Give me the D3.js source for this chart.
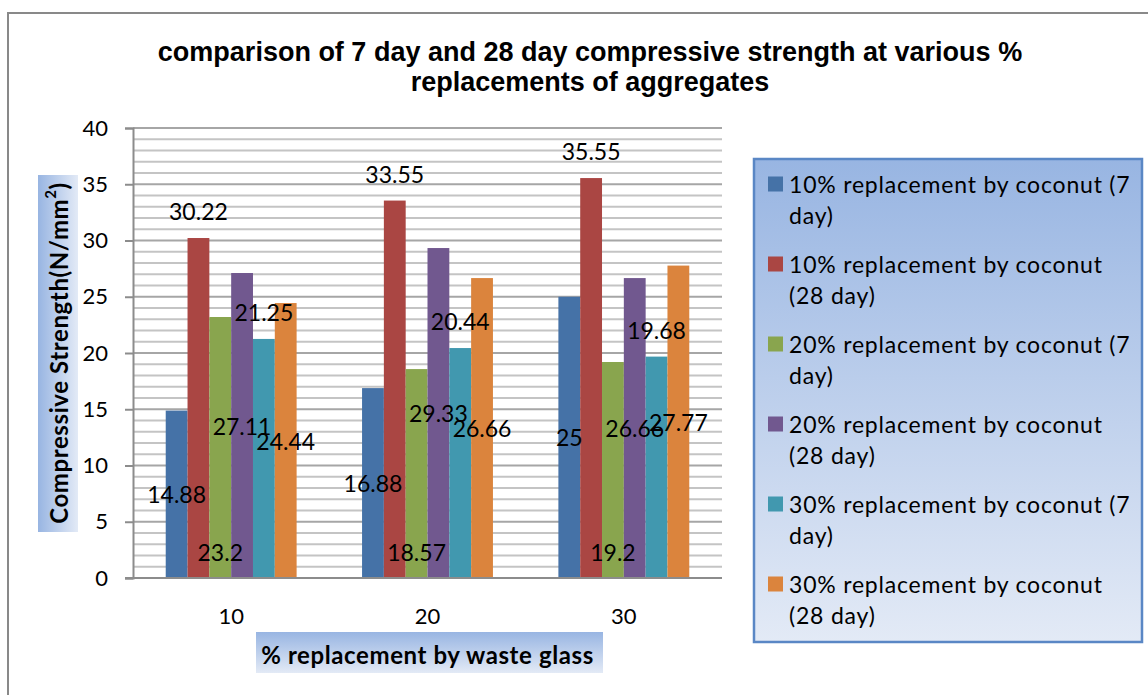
<!DOCTYPE html>
<html>
<head>
<meta charset="utf-8">
<title>7 day and 28 day compressive strength</title>
<script src="https://d3js.org/d3.v7.min.js"></script>
<style>
  body { margin: 0; background: #fff; }
  svg { display: block; }
  .grid-minor line { stroke: #c4c4c4; stroke-width: 2; }
  .grid-major line { stroke: #a6a6a6; stroke-width: 2; }
  .axis text { font-family: Lato, sans-serif; font-size: 22px; fill: #000; }
  .lbl { font-family: Lato, sans-serif; font-size: 23px; fill: #000; }
  .leg { font-family: Lato, sans-serif; font-size: 23px; letter-spacing: 0.8px; fill: #000; }
</style>
</head>
<body>
<svg width="1148" height="695"></svg>
<script>
// categories on x (% replacement by waste glass)
var categories = ["10", "20", "30"];

var seriesNames = [
  "10% replacement by coconut (7 day)",
  "10% replacement by coconut (28 day)",
  "20% replacement by coconut (7 day)",
  "20% replacement by coconut (28 day)",
  "30% replacement by coconut (7 day)",
  "30% replacement by coconut (28 day)"
];

// one array per series, in category order
var s10_7  = [14.88, 16.88, 25];
var s10_28 = [30.22, 33.55, 35.55];
var s20_7  = [23.2, 18.57, 19.2];
var s20_28 = [27.11, 29.33, 26.66];
var s30_7  = [21.25, 20.44, 19.68];
var s30_28 = [24.44, 26.66, 27.77];

var yTicks = [0, 5, 10, 15, 20, 25, 30, 35, 40];

var colors = ["#4572a7", "#aa4643", "#89a54e", "#71588f", "#4198af", "#db843d"];
// where excel put each series' data label
var labelPos = ["center", "outsideEnd", "insideBase", "center", "outsideEnd", "center"];

var seriesVals = [s10_7, s10_28, s20_7, s20_28, s30_7, s30_28];

var svg = d3.select("svg");

// gradient used by axis titles + legend
var defs = svg.append("defs");
var grad = defs.append("linearGradient")
    .attr("id", "blueGrad")
    .attr("x1", 0).attr("y1", 0).attr("x2", 0).attr("y2", 1);
grad.append("stop").attr("offset", "0%").attr("stop-color", "#98b5e2");
grad.append("stop").attr("offset", "100%").attr("stop-color", "#e3eaf6");

var gradY = defs.append("linearGradient")
    .attr("id", "blueGradY")
    .attr("x1", 0).attr("y1", 0).attr("x2", 1).attr("y2", 0);
gradY.append("stop").attr("offset", "0%").attr("stop-color", "#98b5e2");
gradY.append("stop").attr("offset", "100%").attr("stop-color", "#e3eaf6");

// outer chart border (cropped at right / bottom)
svg.append("path")
    .attr("d", "M8,700 V13 H1150")
    .attr("fill", "none")
    .attr("stroke", "#898989")
    .attr("stroke-width", 2);

var plotL = 133, plotR = 722, plotT = 128, plotB = 578;

var y = d3.scaleLinear().domain([0, 40]).range([plotB, plotT]);

var x0 = d3.scaleBand().domain(categories).range([plotL, plotR]).padding(0);
var x1 = d3.scaleBand().domain(d3.range(seriesNames.length))
    .range([0, x0.bandwidth()])
    .paddingInner(0).paddingOuter(1.5);

// minor grid every 1
svg.append("g").attr("class", "grid-minor")
  .selectAll("line")
  .data(d3.range(1, 40).filter(function(d) { return d % 5 != 0; }))
  .enter().append("line")
    .attr("x1", plotL).attr("x2", plotR)
    .attr("y1", function(d) { return y(d); })
    .attr("y2", function(d) { return y(d); });

// major grid every 5
svg.append("g").attr("class", "grid-major")
  .selectAll("line")
  .data(yTicks.filter(function(d) { return d > 0; }))
  .enter().append("line")
    .attr("x1", plotL).attr("x2", plotR)
    .attr("y1", function(d) { return y(d); })
    .attr("y2", function(d) { return y(d); });

// y axis
var yAxis = svg.append("g")
    .attr("class", "axis")
    .attr("transform", "translate(" + plotL + ",0)")
    .call(d3.axisLeft(y).tickValues(yTicks).tickSize(8).tickPadding(17));
yAxis.select(".domain").attr("stroke", "#8c8c8c").attr("stroke-width", 2);
yAxis.selectAll(".tick line").attr("stroke", "#8c8c8c").attr("stroke-width", 2);

// bars
var groups = svg.append("g").selectAll("g")
  .data(categories)
  .enter().append("g")
    .attr("transform", function(d) { return "translate(" + x0(d) + ",0)"; });

groups.selectAll("rect")
  .data(function(c, ci) {
    return seriesVals.map(function(s, si) { return {si: si, v: s[ci]}; });
  })
  .enter().append("rect")
    .attr("x", function(d) { return x1(d.si); })
    .attr("width", x1.bandwidth())
    .attr("y", function(d) { return y(d.v); })
    .attr("height", function(d) { return y(0) - y(d.v); })
    .attr("fill", function(d) { return colors[d.si]; });

// x axis line
svg.append("line")
    .attr("x1", plotL - 8).attr("x2", plotR)
    .attr("y1", plotB).attr("y2", plotB)
    .attr("stroke", "#8c8c8c").attr("stroke-width", 2);

svg.append("g").attr("class", "axis")
  .selectAll("text")
  .data(categories)
  .enter().append("text")
    .attr("x", function(d) { return x0(d) + x0.bandwidth() / 2; })
    .attr("y", 615)
    .attr("text-anchor", "middle")
    .attr("dominant-baseline", "central")
    .text(function(d) { return d; });

// data labels
groups.selectAll("text")
  .data(function(c, ci) {
    return seriesVals.map(function(s, si) { return {si: si, v: s[ci]}; });
  })
  .enter().append("text")
    .attr("class", "lbl")
    .attr("text-anchor", "middle")
    .attr("dominant-baseline", "central")
    .attr("x", function(d) { return x1(d.si) + x1.bandwidth() / 2; })
    .attr("y", function(d) {
      var p = labelPos[d.si];
      if (p == "center") return y(d.v / 2);
      if (p == "outsideEnd") return y(d.v) - 27;
      return y(0) - 26;
    })
    .text(function(d) { return d.v; });

// title
var title = svg.append("text")
    .attr("text-anchor", "middle")
    .attr("font-family", "'Liberation Sans', Arial, sans-serif")
    .attr("font-weight", "bold")
    .attr("font-size", 27);
title.append("tspan").attr("x", 590).attr("y", 61)
    .text("comparison of 7 day and 28 day compressive strength at various %");
title.append("tspan").attr("x", 590).attr("y", 91)
    .text("replacements of aggregates");

// y axis title
svg.append("rect")
    .attr("x", 38).attr("y", 175).attr("width", 40).attr("height", 357)
    .attr("fill", "url(#blueGradY)");
svg.append("text")
    .attr("transform", "translate(58," + ((plotT + plotB) / 2) + ") rotate(-90)")
    .attr("text-anchor", "middle")
    .attr("dominant-baseline", "central")
    .attr("font-family", "Lato, sans-serif")
    .attr("font-weight", "bold")
    .attr("font-size", 24)
    .style("letter-spacing", "0.6px")
    .html("Compressive Strength(N/mm<tspan dy='-8' font-size='15'>2</tspan><tspan dy='8'>)</tspan>");

// x axis title
svg.append("rect")
    .attr("x", 256).attr("y", 632).attr("width", 347).attr("height", 41)
    .attr("fill", "url(#blueGrad)");
svg.append("text")
    .attr("x", (plotL + plotR) / 2)
    .attr("y", 654)
    .attr("text-anchor", "middle")
    .attr("dominant-baseline", "central")
    .attr("font-family", "Lato, sans-serif")
    .attr("font-weight", "bold")
    .attr("font-size", 24)
    .style("letter-spacing", "0.6px")
    .text("% replacement by waste glass");

// legend
var legend = svg.append("g");
legend.append("rect")
    .attr("x", 754).attr("y", 159).attr("width", 388).attr("height", 483)
    .attr("fill", "url(#blueGrad)")
    .attr("stroke", "#5a87c5")
    .attr("stroke-width", 2.5);

var item = legend.selectAll("g.item")
  .data(seriesNames)
  .enter().append("g")
    .attr("class", "item")
    .attr("transform", function(d, i) { return "translate(768," + (184 + i * 80) + ")"; });

item.append("rect")
    .attr("x", 0).attr("y", -7.5)
    .attr("width", 15).attr("height", 15)
    .attr("fill", function(d, i) { return colors[i]; });

item.append("text")
    .attr("class", "leg")
    .each(function(d) {
      // wrap the name like excel does
      var el = d3.select(this), words = d.split(" "), line = [], n = 0;
      var ts = el.append("tspan").attr("x", 21).attr("y", 0).attr("dominant-baseline", "central");
      words.forEach(function(w) {
        line.push(w);
        ts.text(line.join(" "));
        if (ts.node().getComputedTextLength() > 350 && line.length > 1) {
          line.pop();
          ts.text(line.join(" "));
          line = [w];
          n++;
          ts = el.append("tspan").attr("x", 21).attr("y", n * 31)
              .attr("dominant-baseline", "central").text(w);
        }
      });
    });
</script>
</body>
</html>
